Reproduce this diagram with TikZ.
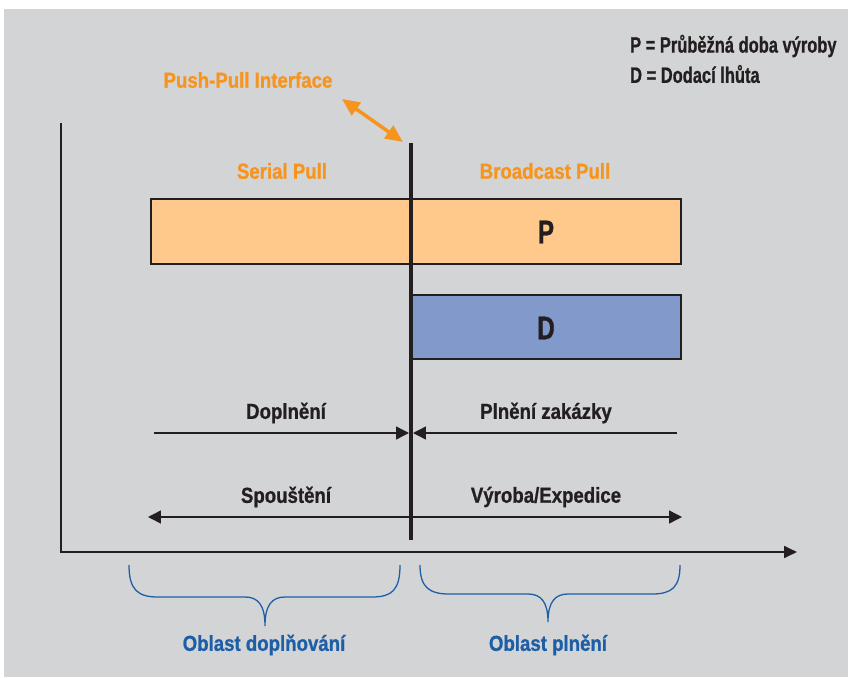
\documentclass[tikz,border=0pt]{standalone}
\usepackage{fontspec}
\setmainfont[FakeStretch=0.86, BoldFeatures={FakeBold=0.8}]{Liberation Sans}
\newfontfamily\legendfont[FakeStretch=0.74, BoldFeatures={FakeBold=0.8}]{Liberation Sans}
\usetikzlibrary{arrows.meta,positioning}

\definecolor{bggray}{HTML}{D3D4D6}
\definecolor{pushorange}{HTML}{F7941D}
\definecolor{pfill}{HTML}{FFC98B}
\definecolor{dfill}{HTML}{8299CC}
\definecolor{areablue}{HTML}{1D5FA6}
\definecolor{ink}{HTML}{231F20}

\begin{document}
\begin{tikzpicture}[x=0.03cm, y=-0.03cm, font=\bfseries\fontsize{18.5}{20}\selectfont, text=ink,
    axis/.style = {draw=ink, line width=2pt, -{Triangle[length=11pt, width=10pt]}},
    bar/.style = {draw=ink, line width=1.7pt, anchor=north west, outer sep=0pt, inner sep=0pt},
    barlabel/.style = {font=\legendfont\bfseries\fontsize{28}{30}\selectfont},
    legend/.style = {anchor=west, font=\legendfont\bfseries\fontsize{19}{21}\selectfont},
    span/.style = {draw=ink, line width=1.2pt, >={Triangle[length=11pt, width=11pt]}},
    orangetext/.style = {text=pushorange},
    area/.style = {draw=areablue, line width=1.1pt},
    areatext/.style = {text=areablue}]

    % page and grey panel
    \useasboundingbox (0,0) rectangle (848,677);
    \fill[bggray] (4,9) rectangle (848,677);

    % axes
    \coordinate (ytop) at (61,123);
    \coordinate (orig) at (61,552);
    \coordinate (xend) at (797,552);
    \draw[axis] (ytop) -- (orig) -- (xend);

    % legend
    \node[legend] (legP) at (626,46) {P = Průběžná doba výroby};
    \node[legend] (legD) at (626,74) {D = Dodací lhůta};

    % bars P and D
    \node[bar, fill=pfill, minimum width=15.9cm, minimum height=1.95cm] (pbar) at (151,199) {};
    \node[bar, fill=dfill, minimum width=8.1cm, minimum height=1.92cm] (dbar) at (411,295) {};
    \node[barlabel] (plab) at (546,232) {P};
    \node[barlabel] (dlab) at (546,328) {D};

    % interface line
    \coordinate (itop) at (411,143);
    \coordinate (ibot) at (411,540);
    \draw[draw=ink, line width=3.3pt] (itop) -- (ibot);

    % push-pull interface
    \node[orangetext] (ppi) at (248,80) {Push-Pull Interface};
    \coordinate (ppa) at (342,99);
    \coordinate (ppb) at (403,142);
    \draw[draw=pushorange, line width=3pt, {Triangle[length=15pt, width=13pt]}-{Triangle[length=15pt, width=13pt]}] (ppa) -- (ppb);
    \node[orangetext] (serial) at (282,171) {Serial Pull};
    \node[orangetext] (broad) at (545,171) {Broadcast Pull};

    % replenishment and order fulfilment
    \node (dopl) at (286,413) {Doplnění};
    \node (plzak) at (546,413) {Plnění zakázky};
    \coordinate (doplL) at (154,433);
    \coordinate (doplR) at (409,433);
    \coordinate (plzL) at (413,433);
    \coordinate (plzR) at (677,433);
    \draw[span, ->] (doplL) -- (doplR);
    \draw[span, ->] (plzR) -- (plzL);

    % triggering and production
    \node (spou) at (286,497) {Spouštění};
    \node (vyro) at (546,497) {Výroba/Expedice};
    \coordinate (spL) at (148,517);
    \coordinate (spR) at (682,517);
    \draw[span, <->] (spL) -- (spR);

    % braces
    \draw[area] (129,565) .. controls (129,590) and (138,597) .. (158,597) -- (245,597)
        .. controls (258,597) and (265,605) .. (265,626)
        .. controls (265,605) and (272,597) .. (285,597) -- (372,597)
        .. controls (392,597) and (400,590) .. (400,565);
    \draw[area] (420,565) .. controls (420,587) and (429,594) .. (449,594) -- (528,594)
        .. controls (541,594) and (548,602) .. (548,622)
        .. controls (548,602) and (555,594) .. (568,594) -- (652,594)
        .. controls (672,594) and (680,587) .. (680,565);
    \node[areatext] (obdopl) at (264,645) {Oblast doplňování};
    \node[areatext] (obpln) at (548,645) {Oblast plnění};
\end{tikzpicture}
\end{document}
